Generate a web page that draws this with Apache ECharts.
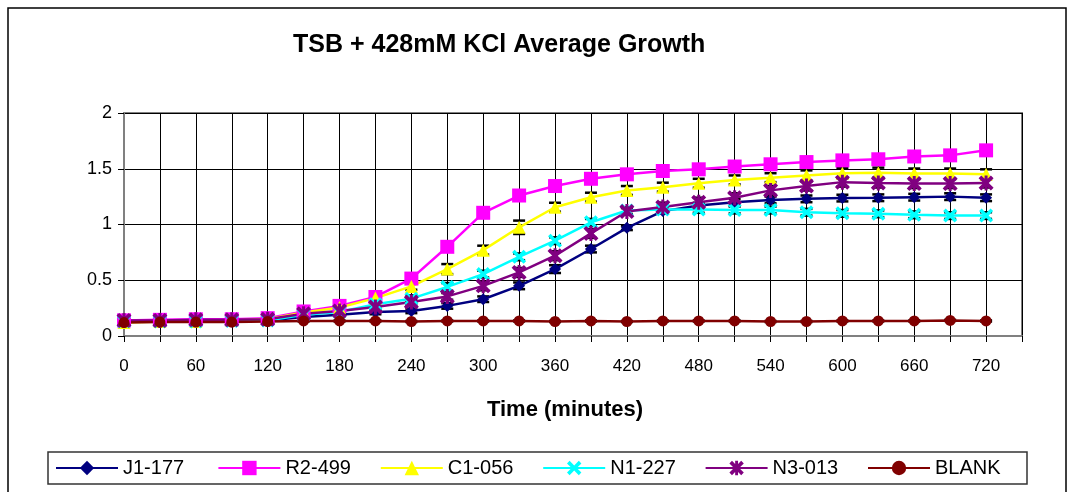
<!DOCTYPE html>
<html>
<head>
<meta charset="utf-8">
<script src="https://cdn.jsdelivr.net/npm/echarts@6/dist/echarts.min.js"></script>
<style>
  html, body { margin: 0; padding: 0; background: #fff; }
  #chart { width: 1067px; height: 492px; }
</style>
</head>
<body>
<div id="chart"></div>
<script>
// time points (minutes)
const times = [0, 30, 60, 90, 120, 150, 180, 210, 240, 270, 300, 330, 360,
  390, 420, 450, 480, 510, 540, 570, 600, 630, 660, 690, 720];

// average OD per strain
const j1_177 = [0.13, 0.13, 0.13, 0.13, 0.14, 0.17, 0.19, 0.215, 0.225, 0.27, 0.33, 0.45, 0.60,
  0.78, 0.97, 1.12, 1.17, 1.20, 1.22, 1.23, 1.237, 1.24, 1.245, 1.25, 1.24];
const r2_499 = [0.14, 0.145, 0.15, 0.15, 0.16, 0.22, 0.27, 0.35, 0.515, 0.80, 1.105, 1.26, 1.345,
  1.41, 1.45, 1.48, 1.495, 1.52, 1.54, 1.56, 1.575, 1.585, 1.61, 1.62, 1.665];
const c1_056 = [0.12, 0.13, 0.13, 0.14, 0.15, 0.21, 0.255, 0.34, 0.445, 0.60, 0.77, 0.975, 1.155,
  1.245, 1.305, 1.335, 1.37, 1.40, 1.42, 1.44, 1.46, 1.465, 1.457, 1.457, 1.45];
const n1_227 = [0.13, 0.13, 0.13, 0.135, 0.14, 0.19, 0.215, 0.285, 0.335, 0.44, 0.555, 0.71, 0.855,
  1.02, 1.125, 1.135, 1.135, 1.13, 1.13, 1.11, 1.10, 1.096, 1.087, 1.08, 1.08];
const n3_013 = [0.14, 0.14, 0.145, 0.145, 0.15, 0.20, 0.225, 0.26, 0.305, 0.355, 0.45, 0.57, 0.72,
  0.92, 1.117, 1.156, 1.20, 1.24, 1.306, 1.345, 1.38, 1.372, 1.367, 1.367, 1.372];
const blank = [0.12, 0.125, 0.125, 0.125, 0.13, 0.135, 0.135, 0.135, 0.13, 0.135, 0.135, 0.135, 0.13,
  0.135, 0.13, 0.135, 0.135, 0.135, 0.13, 0.13, 0.135, 0.135, 0.135, 0.14, 0.135];

// standard deviation (error bars)
const j1_err = [0.01, 0.01, 0.01, 0.01, 0.01, 0.01, 0.015, 0.02, 0.02, 0.025, 0.025, 0.03, 0.035,
  0.03, 0.02, 0.02, 0.025, 0.03, 0.03, 0.03, 0.03, 0.03, 0.03, 0.03, 0.03];
const r2_err = [0.01, 0.01, 0.01, 0.01, 0.01, 0.01, 0.01, 0.02, 0.02, 0.02, 0.02, 0.02, 0.02,
  0.02, 0.02, 0.02, 0.02, 0.02, 0.02, 0.02, 0.02, 0.02, 0.02, 0.02, 0.02];
const c1_err = [0.01, 0.01, 0.01, 0.01, 0.01, 0.02, 0.02, 0.03, 0.03, 0.045, 0.04, 0.06, 0.04,
  0.04, 0.04, 0.04, 0.04, 0.04, 0.04, 0.045, 0.045, 0.045, 0.045, 0.045, 0.045];
const n1_err = [0.01, 0.01, 0.01, 0.01, 0.01, 0.01, 0.02, 0.02, 0.03, 0.035, 0.03, 0.03, 0.03,
  0.03, 0.03, 0.03, 0.03, 0.03, 0.03, 0.03, 0.03, 0.03, 0.03, 0.03, 0.03];
const n3_err = [0.01, 0.01, 0.01, 0.01, 0.01, 0.01, 0.02, 0.02, 0.03, 0.03, 0.04, 0.04, 0.04,
  0.04, 0.03, 0.04, 0.04, 0.04, 0.04, 0.04, 0.04, 0.04, 0.04, 0.04, 0.04];
const blank_err = [0.005, 0.005, 0.005, 0.005, 0.005, 0.005, 0.005, 0.005, 0.005, 0.005, 0.005, 0.005, 0.005,
  0.005, 0.005, 0.005, 0.005, 0.005, 0.005, 0.005, 0.005, 0.005, 0.005, 0.005, 0.005];

const names = ['J1-177', 'R2-499', 'C1-056', 'N1-227', 'N3-013', 'BLANK'];
const values = [j1_177, r2_499, c1_056, n1_227, n3_013, blank];
const errors = [j1_err, r2_err, c1_err, n1_err, n3_err, blank_err];
const colors = ['#000080', '#FF00FF', '#FFFF00', '#00FFFF', '#800080', '#800000'];

const xShape = 'path://M0,1.8 L1.8,0 L5,3.2 L8.2,0 L10,1.8 L6.8,5 L10,8.2 L8.2,10 L5,6.8 L1.8,10 L0,8.2 L3.2,5 Z';
const starShape = 'path://M0,1.8 L1.8,0 L5,3.2 L8.2,0 L10,1.8 L6.8,5 L10,8.2 L8.2,10 L5,6.8 L1.8,10 L0,8.2 L3.2,5 Z M4,0 L6,0 L6,10 L4,10 Z';
const symbols = ['diamond', 'rect', 'triangle', xShape, starShape, 'circle'];
const sizes = [12, 14, 13, 14, 15, 11];

const FONT = 'Liberation Sans, Arial, sans-serif';

const chart = echarts.init(document.getElementById('chart'));

const series = [];
names.forEach((name, i) => {
  // error bars drawn under the line markers
  series.push({
    name: name + ' err',
    type: 'custom',
    z: 1,
    silent: true,
    encode: { x: 0, y: 1 },
    data: times.map((t, k) => [t, values[i][k], errors[i][k]]),
    renderItem: (params, api) => {
      const t = api.value(0);
      const v = api.value(1);
      const e = api.value(2);
      const top = api.coord([t, v + e]);
      const bot = api.coord([t, v - e]);
      const half = 6;
      const style = { stroke: '#000', lineWidth: 2.5 };
      return {
        type: 'group',
        children: [
          { type: 'line', shape: { x1: top[0], y1: top[1], x2: bot[0], y2: bot[1] }, style: { stroke: '#000', lineWidth: 1 } },
          { type: 'line', shape: { x1: top[0] - half, y1: top[1], x2: top[0] + half, y2: top[1] }, style },
          { type: 'line', shape: { x1: bot[0] - half, y1: bot[1], x2: bot[0] + half, y2: bot[1] }, style }
        ]
      };
    }
  });
});
names.forEach((name, i) => {
  series.push({
    name: name,
    type: 'line',
    z: 3,
    data: times.map((t, k) => [t, values[i][k]]),
    symbol: symbols[i],
    symbolSize: sizes[i],
    showAllSymbol: true,
    lineStyle: { color: colors[i], width: 2.5 },
    itemStyle: { color: colors[i], borderWidth: 0 },
    emphasis: { disabled: true }
  });
});

// one legend per series so the spacing matches the boxed legend
const legends = names.map((name, i) => ({
  data: [name],
  left: 55 + i * 162.4,
  top: 458,
  padding: 0,
  itemWidth: 62,
  itemHeight: 18,
  textStyle: { fontFamily: FONT, fontSize: 20, color: '#000' }
}));

const option = {
  animation: false,
  backgroundColor: '#fff',
  title: {
    text: 'TSB + 428mM KCl Average Growth',
    left: 288,
    top: 28,
    textStyle: { fontFamily: FONT, fontSize: 25, fontWeight: 'bold', color: '#000' }
  },
  graphic: [{
    type: 'rect',
    shape: { x: 8, y: 8, width: 1058, height: 500 },
    style: { fill: 'none', stroke: '#000', lineWidth: 1.5 },
    silent: true
  }, {
    type: 'rect',
    shape: { x: 48, y: 452, width: 979, height: 32 },
    style: { fill: 'none', stroke: '#333', lineWidth: 1.5 },
    silent: true
  }],
  legend: legends,
  grid: {
    left: 124,
    right: 45,
    top: 113,
    bottom: 156,
    show: true,
    borderColor: '#808080',
    borderWidth: 2,
    containLabel: false
  },
  xAxis: {
    type: 'value',
    min: 0,
    max: 750,
    interval: 30,
    name: 'Time (minutes)',
    nameLocation: 'middle',
    nameGap: 63,
    nameTextStyle: { fontFamily: FONT, fontSize: 22, fontWeight: 'bold', color: '#000', padding: [0, 16, 0, 0] },
    axisLine: { show: true, lineStyle: { color: '#808080', width: 2 } },
    axisTick: { show: true, length: 6, lineStyle: { color: '#000' } },
    axisLabel: {
      margin: 22,
      fontFamily: FONT,
      fontSize: 17,
      color: '#000',
      formatter: (v) => (v % 60 === 0 && v <= 720 ? String(v) : '')
    },
    splitLine: { show: true, lineStyle: { color: '#000', width: 1 } }
  },
  yAxis: {
    type: 'value',
    min: 0,
    max: 2,
    interval: 0.5,
    axisLine: { show: true, lineStyle: { color: '#808080', width: 2 } },
    axisTick: { show: true, length: 6, lineStyle: { color: '#000' } },
    axisLabel: { margin: 12, fontFamily: FONT, fontSize: 18, color: '#000' },
    splitLine: { show: true, lineStyle: { color: '#000', width: 1 } }
  },
  series: series
};

chart.setOption(option);
</script>
</body>
</html>
